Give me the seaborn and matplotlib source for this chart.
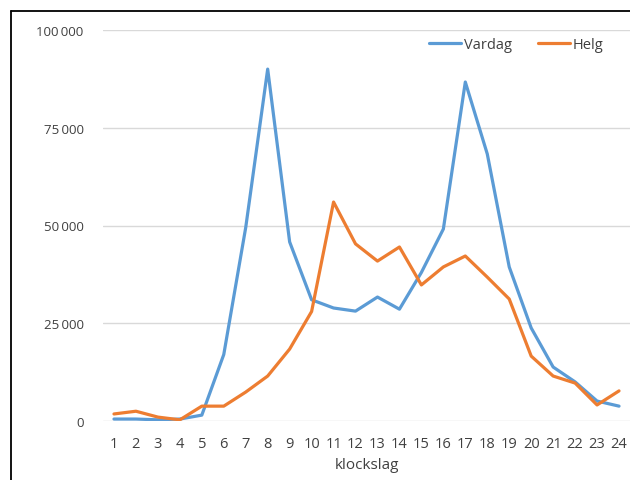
import matplotlib
matplotlib.use("Agg")
import matplotlib.pyplot as plt
import seaborn as sns
import pandas as pd
from matplotlib.lines import Line2D

hours = list(range(1, 25))
vardag = [500, 500, 300, 500, 1500, 17000, 49500, 90000, 45800, 31000,
          28900, 28100, 31700, 28600, 38000, 49100, 86700, 68300, 39400, 23800,
          13800, 10000, 5100, 3800]
helg = [1800, 2500, 1000, 300, 3800, 3800, 7400, 11500, 18400, 28000,
        56000, 45300, 40900, 44500, 34800, 39400, 42200, 36800, 31200, 16600,
        11500, 9700, 4100, 7700]
series_names = ["Vardag", "Helg"]
y_ticks = [0, 25000, 50000, 75000, 100000]
y_tick_labels = ["0", "25\u2009000", "50\u2009000", "75\u2009000", "100\u2009000"]
x_label = "klockslag"

df = pd.DataFrame({
    "klockslag": hours * 2,
    "value": vardag + helg,
    "serie": [series_names[0]] * 24 + [series_names[1]] * 24,
})

sns.set_style("white")
plt.rcParams["font.family"] = ["Open Sans", "DejaVu Sans"]

fig = plt.figure(figsize=(6.30, 4.81), dpi=100)
ax = fig.add_axes([103 / 630, 1 - 422 / 481, 527 / 630, 391 / 481])

sns.lineplot(data=df, x="klockslag", y="value", hue="serie",
             palette=["#5B9BD5", "#ED7D31"], linewidth=2.3, ax=ax)

ax.set_xlim(0.5, 24.5)
ax.set_ylim(0, 100000)
ax.set_yticks(y_ticks)
ax.set_yticklabels(y_tick_labels)
ax.set_xticks(hours)
ax.set_xticklabels([str(h) for h in hours])
ax.grid(axis="y", color="#D9D9D9", linewidth=1)
ax.set_axisbelow(True)
for s in ax.spines.values():
    s.set_visible(False)
ax.tick_params(axis="y", length=0, pad=14, labelsize=9.5, labelcolor="#404040")
ax.tick_params(axis="x", length=0, pad=11, labelsize=10.5, labelcolor="#404040")
ax.set_xlabel(x_label, fontsize=11, color="#404040", labelpad=4)
ax.set_ylabel("")

leg = ax.legend(loc="upper right", bbox_to_anchor=(0.975, 1.015), ncol=2,
                frameon=False, fontsize=10.5, handlelength=2.2,
                handletextpad=0.2, columnspacing=1.8)
for t in leg.get_texts():
    t.set_color("#404040")

# outer frame (left and top edges visible)
fig.add_artist(Line2D([10.5 / 630, 10.5 / 630], [0, 1 - 12 / 481],
                      transform=fig.transFigure, color="black", linewidth=1.3))
fig.add_artist(Line2D([10.5 / 630, 1], [1 - 12 / 481, 1 - 12 / 481],
                      transform=fig.transFigure, color="black", linewidth=1.3))

fig.savefig("out.png", dpi=100)
